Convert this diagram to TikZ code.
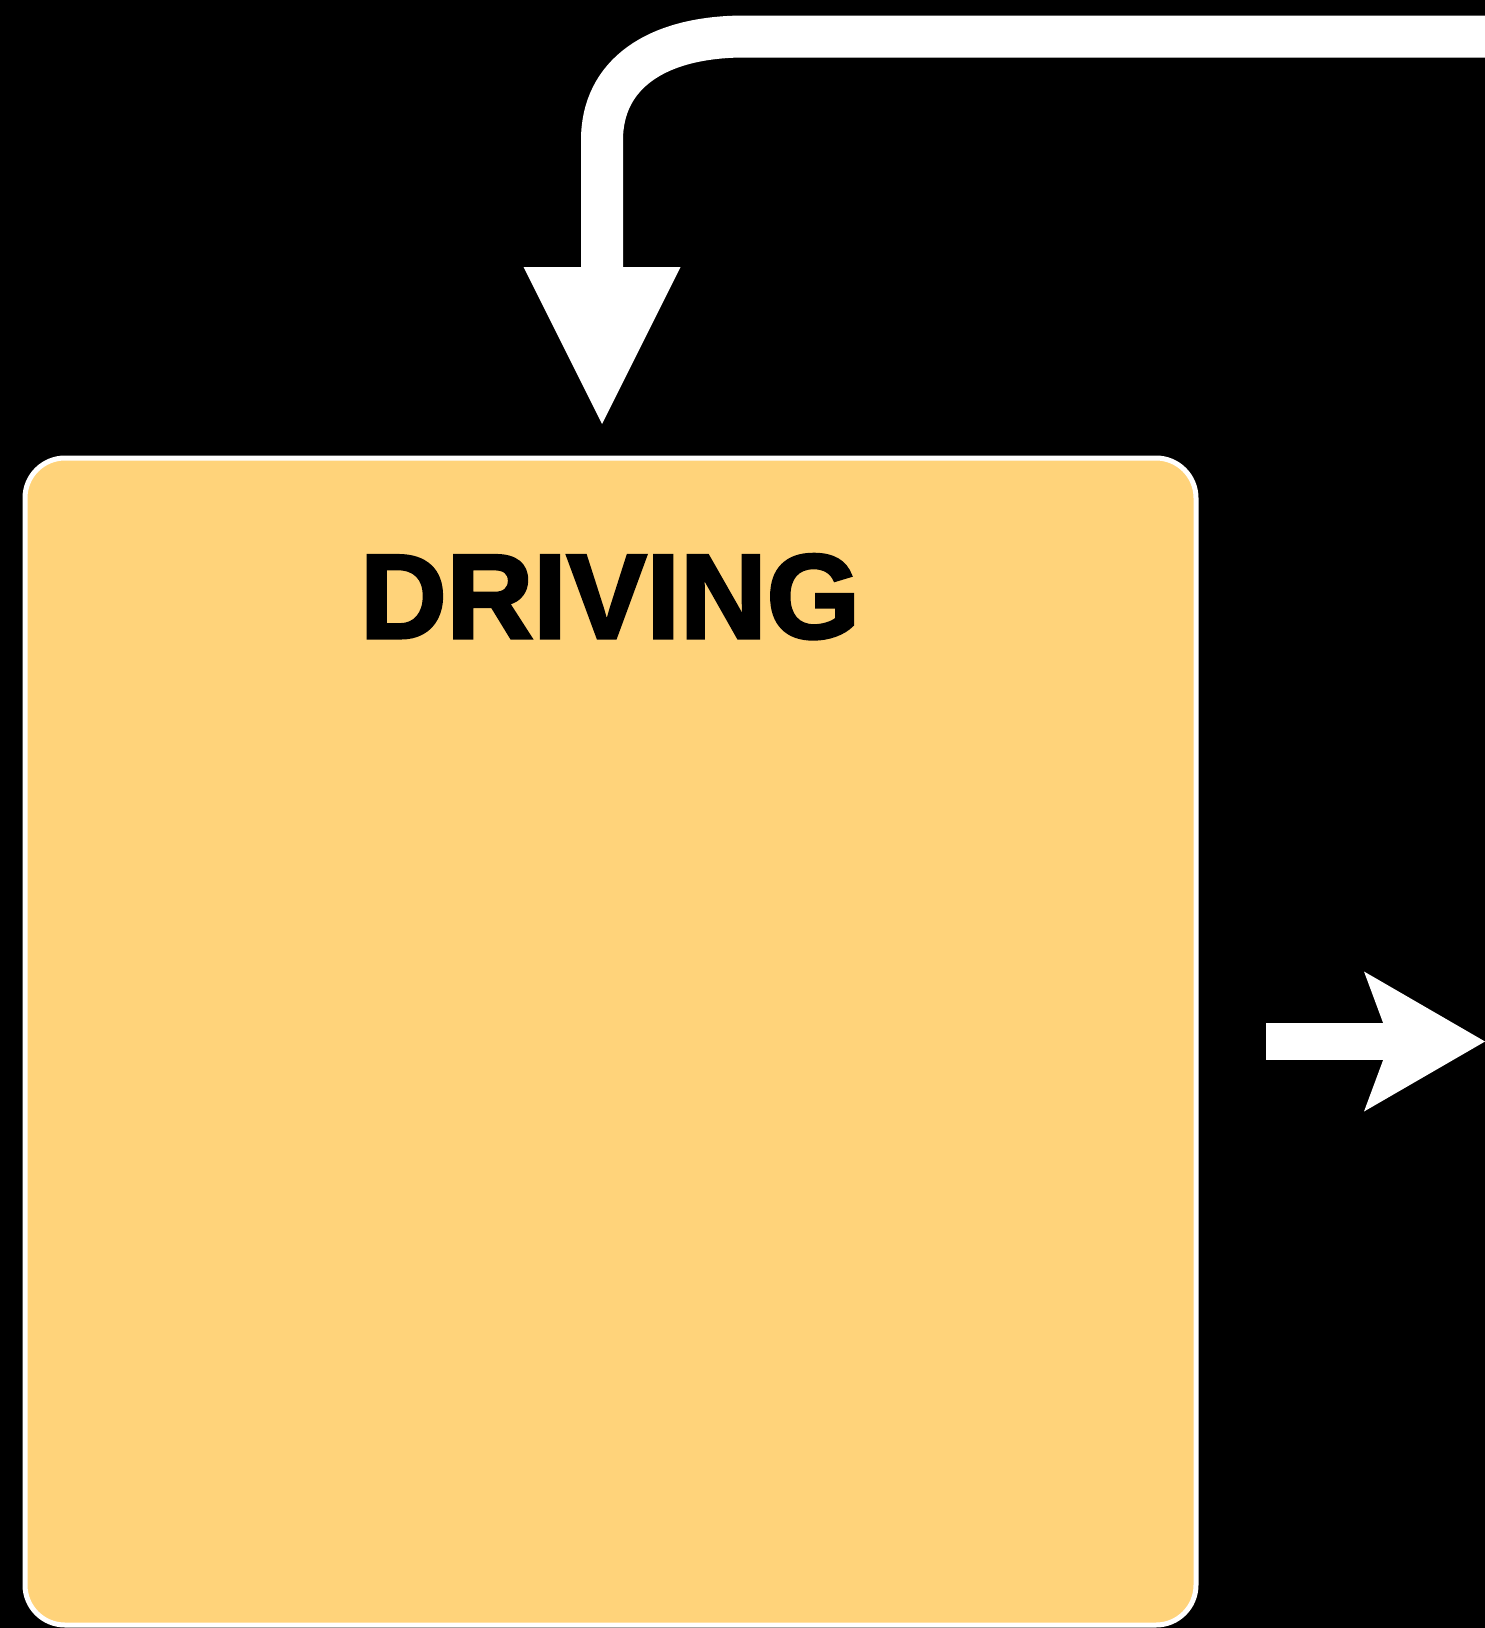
\documentclass[tikz,border=0pt]{standalone}
\usepackage{fontspec}
\setmainfont{Liberation Sans}
\usetikzlibrary{arrows.meta}
\definecolor{boxfill}{HTML}{FFD37A}
\newcommand{\heavytext}[1]{\special{pdf:literal direct 2 Tr 3 w 0 j 4 M}#1\special{pdf:literal direct 0 Tr}}
\tikzset{
  statebox/.style={draw=white, line width=5pt, fill=boxfill, rounded corners=40pt},
  titletext/.style={font=\fontsize{120}{140}\selectfont\bfseries, text=black, inner sep=0pt},
  flowline/.style={draw=white, line width=42pt},
}
\begin{document}
\begin{tikzpicture}[x=1pt,y=-1pt]
\fill[black] (0,0) rectangle (1485,1628);
\useasboundingbox (0,0) rectangle (1485,1628);

\node[statebox, minimum width=1171pt, minimum height=1167pt] (driving) at (610.5,1041.5) {};

\coordinate (topstart) at (1485,36.5);
\coordinate (bend) at (602,140);
\draw[flowline, -{Triangle[length=157pt,width=157pt,line width=0pt]}, shorten >=31.5pt]
  (topstart) -- (745,36.5) .. controls (655,36.5) and (602,75) .. (bend) -- (bend |- driving.north);

\coordinate (outend) at (1485,1041.5);
\draw[flowline, line width=37.5pt, -{Stealth[length=121pt,width=140pt,inset=26pt,line width=0pt]}, shorten <=67.5pt]
  (driving.east) -- (outend);

\node[titletext, anchor=base] (title) at (610,638) {\heavytext{DRIVING}};
\end{tikzpicture}
\end{document}
